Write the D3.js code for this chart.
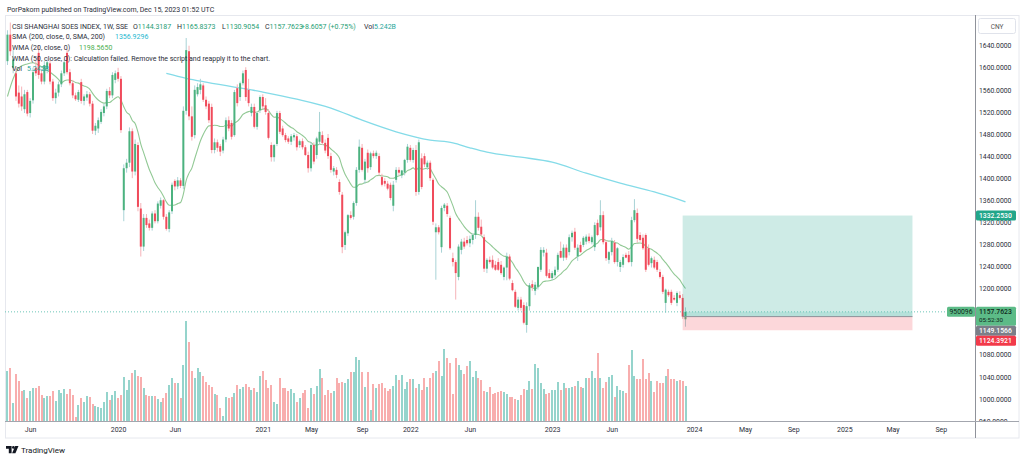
<!DOCTYPE html>
<html><head><meta charset="utf-8">
<script src="https://cdn.jsdelivr.net/npm/d3@7"></script>
<style>
html,body{margin:0;padding:0;background:#fff;}
svg{display:block;font-family:Roboto,"Noto Sans",sans-serif;}
</style></head><body>
<svg id="c" width="1024" height="461"></svg>
<script>
// ---------------- DATA ----------------
const firstWeek = "2019-04-08";
const missingWeeks = ["2020-01-27","2022-01-31","2022-10-03","2023-01-23","2023-10-02"];

const opens = [1612,1660,1600,1590,1555,1548,1525,1556,1518,1541,
1600,1627,1590,1575,1598,1608,1575,1545,1555,1570,
1590,1627,1592,1572,1550,1542,1574,1540,1546,1552,
1535,1486,1490,1502,1518,1530,1558,1550,1578,1592,
1580,1342,1418,1428,1485,1412,1460,1345,1276,1328,
1318,1310,1336,1322,1350,1360,1330,1308,1340,1395,
1385,1396,1386,1522,1630,1512,1478,1552,1560,1568,
1542,1535,1529,1451,1465,1458,1450,1470,1505,1500,
1478,1563,1547,1572,1596,1560,1518,1529,1493,1523,
1547,1532,1518,1460,1438,1462,1518,1490,1478,1472,
1466,1474,1476,1460,1467,1456,1442,1418,1460,1442,
1466,1478,1464,1473,1440,1412,1415,1393,1370,1279,
1300,1333,1330,1355,1415,1455,1397,1446,1420,1445,
1440,1440,1402,1395,1390,1388,1350,1397,1415,1405,
1410,1433,1455,1433,1451,1375,1436,1440,1420,1428,
1397,1302,1311,1275,1346,1350,1328,1255,1248,1221,
1270,1285,1288,1282,1288,1297,1330,1312,1293,1236,
1252,1252,1243,1248,1243,1221,1238,1258,1210,1194,
1165,1180,1170,1134,1168,1208,1196,1203,1234,1265,
1265,1228,1219,1224,1234,1268,1256,1274,1266,1293,
1303,1258,1279,1279,1285,1294,1284,1275,1319,1311,
1333,1284,1252,1266,1283,1248,1239,1243,1261,1261,
1248,1324,1337,1297,1292,1297,1273,1246,1252,1248,
1230,1221,1174,1194,1194,1183,1174,1188,1183,1144.3187];

const highs = [1668,1682,1632,1598,1568,1566,1560,1560,1545,1600,
1612,1640,1598,1612,1615,1612,1580,1562,1575,1595,
1615,1635,1598,1578,1555,1560,1580,1552,1558,1556,
1540,1500,1510,1525,1535,1562,1565,1592,1595,1600,
1585,1425,1435,1492,1490,1470,1465,1355,1335,1335,
1325,1340,1342,1358,1365,1362,1335,1342,1392,1398,
1402,1400,1530,1654,1640,1530,1568,1572,1580,1572,
1548,1540,1535,1472,1470,1462,1475,1510,1512,1505,
1560,1570,1575,1595,1601,1580,1535,1535,1520,1550,
1552,1545,1525,1465,1462,1522,1522,1495,1482,1476,
1480,1482,1480,1470,1472,1460,1448,1465,1465,1475,
1520,1485,1470,1480,1446,1422,1420,1398,1375,1305,
1335,1340,1358,1420,1470,1462,1435,1452,1448,1450,
1450,1445,1408,1400,1395,1392,1395,1420,1420,1415,
1435,1462,1460,1455,1460,1470,1445,1445,1432,1432,
1400,1318,1315,1350,1355,1355,1332,1265,1252,1280,
1290,1292,1295,1296,1300,1360,1338,1325,1298,1255,
1258,1260,1250,1255,1250,1240,1265,1262,1215,1198,
1185,1185,1175,1175,1210,1215,1212,1240,1275,1275,
1272,1235,1232,1240,1265,1285,1280,1280,1298,1305,
1310,1280,1285,1295,1298,1300,1296,1320,1325,1360,
1340,1288,1268,1292,1288,1275,1252,1262,1265,1268,
1330,1362,1345,1302,1298,1300,1280,1258,1258,1252,
1235,1225,1200,1198,1198,1188,1195,1195,1190,1165.8373];

const lows = [1605,1622,1590,1540,1528,1522,1518,1512,1510,1535,
1585,1580,1570,1570,1590,1570,1540,1535,1548,1565,
1585,1588,1568,1545,1540,1538,1535,1532,1540,1530,
1480,1478,1482,1498,1512,1525,1545,1545,1572,1575,
1482,1322,1410,1420,1400,1405,1340,1258,1268,1310,
1305,1305,1318,1318,1345,1325,1305,1302,1335,1378,
1380,1382,1380,1515,1505,1468,1472,1548,1552,1538,
1525,1500,1445,1445,1448,1440,1445,1465,1485,1470,
1475,1530,1540,1568,1540,1530,1512,1490,1488,1518,
1525,1515,1470,1430,1430,1458,1480,1475,1465,1462,
1460,1468,1450,1455,1452,1440,1410,1412,1425,1435,
1460,1460,1445,1435,1410,1405,1400,1370,1264,1270,
1295,1325,1325,1350,1410,1412,1390,1410,1415,1436,
1435,1405,1385,1385,1378,1360,1340,1392,1405,1400,
1405,1428,1430,1428,1368,1370,1380,1420,1415,1395,
1315,1216,1298,1265,1340,1330,1270,1240,1180,1215,
1262,1272,1278,1275,1280,1290,1305,1295,1230,1228,
1245,1235,1232,1232,1225,1215,1215,1215,1195,1165,
1160,1160,1135,1120,1160,1196,1188,1198,1230,1258,
1220,1218,1215,1220,1230,1255,1250,1252,1260,1285,
1270,1250,1265,1275,1280,1282,1280,1268,1295,1305,
1280,1250,1245,1260,1245,1240,1230,1238,1255,1246,
1240,1320,1283,1285,1270,1230,1240,1238,1235,1230,
1218,1190,1156,1185,1170,1178,1168,1180,1145,1130.9054];

const closes = [1660,1630,1615,1548,1535,1530,1552,1517,1540,1592,
1590,1587,1575,1605,1610,1575,1545,1555,1570,1590,
1610,1592,1572,1550,1543,1556,1540,1548,1552,1535,
1486,1495,1505,1520,1530,1558,1550,1587,1590,1580,
1487,1418,1428,1485,1412,1462,1348,1276,1328,1315,
1310,1336,1322,1354,1360,1330,1308,1338,1388,1385,
1396,1386,1522,1632,1512,1475,1560,1565,1570,1542,
1530,1505,1451,1465,1455,1448,1470,1505,1490,1475,
1556,1536,1572,1590,1547,1536,1529,1493,1518,1547,
1530,1520,1473,1438,1460,1518,1484,1478,1469,1466,
1476,1478,1456,1467,1456,1442,1418,1460,1430,1472,
1484,1464,1450,1440,1415,1418,1406,1375,1275,1302,
1333,1328,1355,1415,1457,1415,1430,1418,1445,1440,
1446,1410,1388,1390,1381,1364,1388,1415,1410,1414,
1433,1457,1433,1451,1375,1465,1384,1425,1428,1400,
1321,1311,1302,1346,1352,1335,1273,1248,1228,1276,
1285,1276,1282,1290,1297,1330,1310,1298,1236,1252,
1248,1238,1234,1234,1228,1238,1258,1218,1197,1167,
1180,1165,1138,1168,1206,1202,1207,1239,1270,1270,
1223,1219,1228,1234,1261,1256,1274,1256,1293,1301,
1274,1274,1266,1292,1294,1286,1293,1315,1297,1333,
1284,1255,1266,1286,1248,1273,1248,1257,1256,1248,
1324,1342,1290,1288,1273,1234,1243,1255,1238,1234,
1221,1194,1198,1188,1174,1180,1192,1183,1149.1566,1157.7623];

// volume in billions
const volumes = [7.5,8.0,2.7,7.1,6.0,4.5,4.7,3.5,4.5,5.0,
5.0,5.3,3.9,3.5,3.8,3.8,4.5,3.0,4.7,4.2,
4.8,4.1,4.8,3.9,0.6,2.4,3.5,2.9,3.8,3.6,
2.6,2.3,2.1,2.0,2.9,4.4,3.2,3.9,4.5,3.5,
3.9,6.6,4.7,6.2,7.2,7.7,6.8,6.6,5.0,3.9,
3.8,3.8,3.8,3.3,2.9,3.5,4.2,5.4,6.5,5.7,
5.7,3.5,8.4,15.0,11.9,7.5,6.5,8.0,7.4,6.8,
5.9,5.4,5.1,4.1,3.9,2.0,0.8,3.6,3.5,3.6,
4.2,5.4,4.8,5.1,5.6,5.1,4.7,5.0,4.4,6.8,
7.5,6.2,5.0,5.4,2.9,2.6,6.5,5.0,5.0,4.5,
4.8,4.2,2.9,3.5,4.2,4.7,2.0,5.0,4.1,5.3,
7.8,6.5,3.9,4.7,4.2,4.5,6.5,5.7,5.9,5.7,
6.3,7.4,7.4,9.6,9.2,7.4,5.1,7.4,1.7,5.6,
5.0,5.6,5.7,5.0,4.5,4.8,5.3,6.9,6.2,6.9,
4.8,5.9,6.3,6.3,5.0,5.6,4.7,6.5,5.1,6.5,
7.2,7.5,9.0,6.8,10.8,9.5,8.7,4.1,9.5,8.4,
7.7,7.1,8.3,9.0,6.6,7.5,6.5,6.2,4.5,4.4,
5.1,4.1,4.2,4.4,4.5,4.4,4.1,3.6,3.6,3.3,
3.2,3.9,4.8,4.7,6.0,4.8,8.6,8.0,5.7,4.8,
4.1,4.2,4.7,4.7,5.9,4.7,5.7,5.0,5.0,5.1,
5.3,6.0,5.1,5.0,6.5,6.5,7.5,6.5,10.2,6.5,
5.0,5.9,6.6,6.9,3.6,5.3,4.7,4.5,4.2,8.4,
10.7,6.8,6.3,6.3,9.3,6.3,7.2,6.0,4.4,6.0,
5.7,5.7,6.8,7.8,6.3,6.3,6.0,6.2,6.0,5.242];

// SMA(200): [bar index, value]
const smaPoints = [[56,1590],[63,1581],[70,1574],[80,1565],[86,1560],[90,1556],[102,1543],[114,1527],[125,1505],[137,1484],[149,1469],[157,1464],[163,1455],[169,1447],[181,1438],[192,1429],[204,1409],[216,1391],[228,1375],[238,1359],[239,1356.9296]];
// WMA(20) before enough bars exist
const wmaEarly = [[0,1548],[2,1580],[4,1600],[7,1607],[9,1609],[12,1602],[15,1592],[18,1579]];
const wmaLast = 1198.5650;

const yTicks = [960,1000,1040,1080,1120,1160,1200,1240,1280,1320,1360,1400,1440,1480,1520,1560,1600,1640];
const xTickLabels = ["Jun","2020","Jun","2021","May","Sep","2022","Jun","2023","Jun","2024","May","Sep","2025","May","Sep"];
const xTickMonths = ["2019-06-01","2020-01-01","2020-06-01","2021-01-01","2021-05-01","2021-09-01","2022-01-01","2022-06-01","2023-01-01","2023-06-01","2024-01-01","2024-05-01","2024-09-01","2025-01-01","2025-05-01","2025-09-01"];

const posStartBar = 238, posEndBar = 319;
const posEntry = 1149.1566, posTarget = 1332.2530, posStop = 1124.3921;
const posQty = "950096";
const lastPrice = 1157.7623, countdown = "05:52:30";

// ---------------- BUILD ----------------
const DAY = 864e5;
const miss = new Set(missingWeeks);
const dates = [];
{ let t = Date.parse(firstWeek + "T00:00:00Z");
  while (dates.length < closes.length) { const s = new Date(t).toISOString().slice(0,10); if (!miss.has(s)) dates.push(new Date(t)); t += 7*DAY; } }
function barIndexOf(str) {
  const t = Date.parse(str + "T00:00:00Z");
  for (let i = 0; i < dates.length; i++) if (dates[i].getTime() >= t) return i;
  const last = dates[dates.length-1].getTime();
  return dates.length - 1 + Math.ceil((t - last) / (7*DAY));
}
const bars = closes.map((c,i)=>({i, o:opens[i], h:highs[i], l:lows[i], c, v:volumes[i], up: c >= opens[i]}));

const wma = [];
wmaEarly.forEach(p=>wma.push(p));
for (let i = 19; i < closes.length; i++) { let s = 0; for (let k = 0; k < 20; k++) s += closes[i-19+k]*(k+1); wma.push([i, s/210]); }

const svg = d3.select("#c");
const L = 5, T = 15, R = 975, B = 421;
const x = d3.scaleLinear().domain([0, 239]).range([7.46, 685.5]);
const y = d3.scaleLinear().domain([960, 1640]).range([421, 45.7]);
const yv = d3.scaleLinear().domain([0, 15]).range([421, 321]);

const UP = "#4cb27f", DN = "#f04b5b", UPW = "#a9d3d6", DNW = "#f6b3b8";
const VUP = "#95d4cc", VDN = "#f8aeae";
const TXT = "#2a2e39";

svg.append("rect").attr("width",1024).attr("height",461).attr("fill","#fff");
const defs = svg.append("defs");
defs.append("clipPath").attr("id","plotclip").append("rect").attr("x",L).attr("y",T).attr("width",R-L).attr("height",B-T);
defs.append("clipPath").attr("id","axclip").append("rect").attr("x",R).attr("y",T).attr("width",1020-R).attr("height",B-T);

// frame
svg.append("rect").attr("x",5.5).attr("y",15.5).attr("width",1013.5).attr("height",422.5).attr("fill","none").attr("stroke","#e6e8ee");

const plot = svg.append("g").attr("clip-path","url(#plotclip)");

// volume
plot.append("g").selectAll("rect").data(bars).join("rect")
  .attr("x", d=>x(d.i)-1).attr("width",2)
  .attr("y", d=>yv(d.v)).attr("height", d=>B - yv(d.v))
  .attr("fill", d=>d.up?VUP:VDN).attr("shape-rendering","crispEdges");

// SMA 200
plot.append("path").datum(smaPoints).attr("fill","none").attr("stroke","#84dbe8").attr("stroke-width",1.3)
  .attr("d", d3.line().x(d=>x(d[0])).y(d=>y(d[1])).curve(d3.curveMonotoneX));
// WMA 20
plot.append("path").datum(wma).attr("fill","none").attr("stroke","#92c995").attr("stroke-width",1.1)
  .attr("d", d3.line().x(d=>x(d[0])).y(d=>y(d[1])).curve(d3.curveMonotoneX));

// candles
const cg = plot.append("g");
cg.selectAll("rect.w").data(bars).join("rect").attr("class","w")
  .attr("x", d=>x(d.i)-0.5).attr("width",1)
  .attr("y", d=>y(Math.max(d.h,d.o,d.c))).attr("height", d=>y(Math.min(d.l,d.o,d.c))-y(Math.max(d.h,d.o,d.c)))
  .attr("fill", d=>d.up?UPW:DNW);
cg.selectAll("rect.b").data(bars).join("rect").attr("class","b")
  .attr("x", d=>x(d.i)-1).attr("width",2)
  .attr("y", d=>y(Math.max(d.o,d.c))).attr("height", d=>Math.max(1, Math.abs(y(d.o)-y(d.c))))
  .attr("fill", d=>d.up?UP:DN);

// position tool (drawn over the candles, translucent)
const px0 = x(posStartBar), px1 = x(posEndBar);
plot.append("rect").attr("x",px0).attr("width",px1-px0).attr("y",y(posTarget)).attr("height",y(posEntry)-y(posTarget)).attr("fill","rgba(8,153,129,0.2)");
plot.append("rect").attr("x",px0).attr("width",px1-px0).attr("y",y(posEntry)).attr("height",y(posStop)-y(posEntry)).attr("fill","rgba(242,54,69,0.2)");
plot.append("rect").attr("x",px0).attr("width",px1-px0).attr("y",y(lastPrice)).attr("height",y(posEntry)-y(lastPrice)).attr("fill","rgba(8,153,129,0.12)");
plot.append("line").attr("x1",px0).attr("x2",px1).attr("y1",y(posEntry)).attr("y2",y(posEntry)).attr("stroke","#8e9199").attr("stroke-width",1);

// last price dotted line
plot.append("line").attr("x1",L).attr("x2",R).attr("y1",y(lastPrice)).attr("y2",y(lastPrice))
  .attr("stroke","#6cc5b8").attr("stroke-width",1).attr("stroke-dasharray","1,2");

// axes lines
svg.append("line").attr("x1",R+0.5).attr("x2",R+0.5).attr("y1",T).attr("y2",438).attr("stroke","#8f929a");
svg.append("line").attr("x1",L).attr("x2",1019).attr("y1",B+0.5).attr("y2",B+0.5).attr("stroke","#a3a6ae");

// price-axis labels (boxes) — computed first so hidden ticks can be skipped
const lpTop = y(lastPrice)-5.2;
const entTop = Math.max(y(posEntry)-5, lpTop+19);
const stTop = Math.max(y(posStop)-5, entTop+10);
const labelBoxes = [
  {top:y(posTarget)-5, h:10, bg:"#22a68a", lines:[d3.format(".4f")(posTarget)], fg:"#fff"},
  {top:lpTop, h:19, bg:"#5cbb87", lines:[d3.format(".4f")(lastPrice), countdown], fg:"#10291b"},
  {top:entTop, h:10, bg:"#7b7e88", lines:[d3.format(".4f")(posEntry)], fg:"#fff"},
  {top:stTop, h:10, bg:"#f23a4a", lines:[d3.format(".4f")(posStop)], fg:"#fff"}
];
const hidden = v => labelBoxes.some(b => y(v) > b.top + 1 && y(v) < b.top + b.h - 1);

// y axis
const yAx = svg.append("g").attr("clip-path","url(#axclip)").append("g").attr("transform",`translate(${R},0)`)
  .call(d3.axisRight(y).tickValues(yTicks.filter(v=>!hidden(v))).tickFormat(d3.format(".4f")).tickSize(0).tickPadding(4));
yAx.select(".domain").remove();
yAx.selectAll("text").attr("font-size",6.8).attr("fill",TXT).attr("font-family","Roboto");

// x axis
const xTickIdx = xTickMonths.map(barIndexOf);
const xAx = svg.append("g").attr("transform",`translate(0,${B})`)
  .call(d3.axisBottom(x).tickValues(xTickIdx).tickFormat((d,i)=>xTickLabels[i]).tickSize(0).tickPadding(6));
xAx.select(".domain").remove();
xAx.selectAll("text").attr("font-size",7).attr("fill",TXT).attr("font-family","Roboto");

// CNY box
svg.append("rect").attr("x",978.5).attr("y",18.5).attr("width",37).attr("height",15).attr("rx",2).attr("fill","#fff").attr("stroke","#e0e3eb");
svg.append("text").attr("x",997).attr("y",28.5).attr("text-anchor","middle").attr("font-size",6.5).attr("fill","#555").text("CNY");

labelBoxes.forEach(b=>{
  svg.append("rect").attr("x",976).attr("y",b.top).attr("width",40).attr("height",b.h).attr("rx",1.5).attr("fill",b.bg);
  b.lines.forEach((t,k)=>svg.append("text").attr("x",979).attr("y",b.top+7.4+k*8.4).attr("font-size",k===0?6.8:6.2)
    .attr("font-weight", k===0?500:400).attr("fill",b.fg).text(t));
});
// qty label
svg.append("rect").attr("x",947).attr("y",y(lastPrice)-5).attr("width",28).attr("height",10).attr("rx",1.5).attr("fill","#5cbb87");
svg.append("text").attr("x",961).attr("y",y(lastPrice)+2.4).attr("text-anchor","middle").attr("font-size",6.8).attr("fill","#10291b").text(posQty);

// header & legend
svg.append("text").attr("x",7).attr("y",11.5).attr("font-size",7).attr("fill",TXT)
  .text("PorPakorn published on TradingView.com, Dec 15, 2023 01:52 UTC");
const G = "#1e9e74";
const l1 = svg.append("text").attr("y",28.5).attr("font-size",7).attr("fill",TXT);
l1.append("tspan").attr("x",12).text("CSI SHANGHAI SOES INDEX, 1W, SSE");
[["O",opens[239],133],["H",highs[239],177],["L",lows[239],222],["C",closes[239],265]].forEach(([k,v,px])=>{
  l1.append("tspan").attr("x",px).text(k);
  l1.append("tspan").attr("fill",G).text(d3.format(".4f")(v));
});
const chg = closes[239]-closes[238], pct = chg/closes[238]*100;
l1.append("tspan").attr("x",301).attr("fill",G).text(`+${chg.toFixed(4)} (+${pct.toFixed(2)}%)`);
l1.append("tspan").attr("x",364).text("Vol");
l1.append("tspan").attr("fill","#26a69a").text(volumes[239].toFixed(3)+"B");

const l2 = svg.append("text").attr("y",39).attr("font-size",7).attr("fill",TXT);
l2.append("tspan").attr("x",12).text("SMA (200, close, 0, SMA, 200)");
l2.append("tspan").attr("x",115).attr("fill","#1fb8d0").text(d3.format(".4f")(smaPoints[smaPoints.length-1][1]));
const l3 = svg.append("text").attr("y",49.5).attr("font-size",7).attr("fill",TXT);
l3.append("tspan").attr("x",12).text("WMA (20, close, 0)");
l3.append("tspan").attr("x",79).attr("fill","#4caf50").text(d3.format(".4f")(wmaLast));
svg.append("text").attr("x",12).attr("y",60.5).attr("font-size",7).attr("fill",TXT)
  .text("WMA (50, close, 0): Calculation failed. Remove the script and reapply it to the chart.");
const l5 = svg.append("text").attr("y",71).attr("font-size",7).attr("fill",TXT);
l5.append("tspan").attr("x",12).text("Vol");
l5.append("tspan").attr("x",27).attr("fill","#26a69a").text(volumes[239].toFixed(3)+"B");

// TradingView logo
const lg = svg.append("g").attr("fill","#131722");
lg.append("path").attr("d","M6 446h5.6v7.2h-2.8v-4.4H6z");
lg.append("circle").attr("cx",13.4).attr("cy",447.4).attr("r",1.4);
lg.append("path").attr("d","M15.2 446h3.3l-3.1 7.2h-3.3z");
svg.append("text").attr("x",21).attr("y",453).attr("font-size",8).attr("fill","#131722").text("TradingView");
</script>
</body></html>
